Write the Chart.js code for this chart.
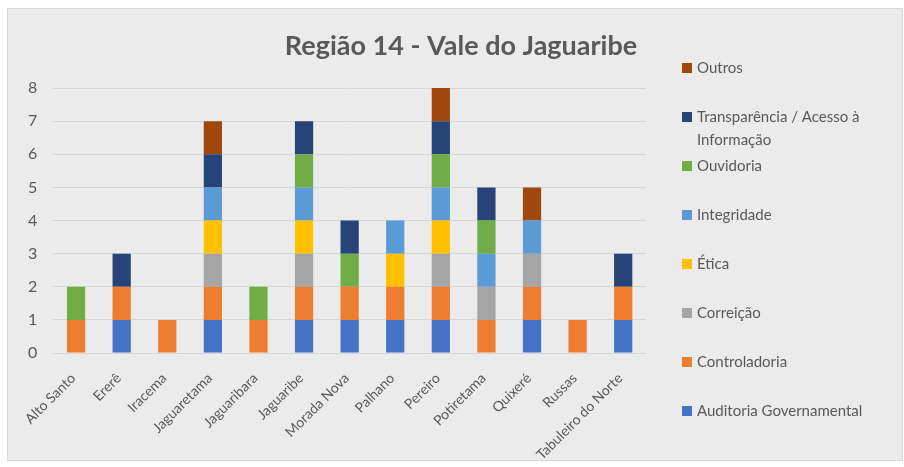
<!DOCTYPE html>
<html>
<head>
<meta charset="utf-8">
<script src="https://cdn.jsdelivr.net/npm/chart.js@4/dist/chart.umd.min.js"></script>
<style>
  html, body { margin: 0; padding: 0; background: #fff; }
  #panel {
    position: absolute; left: 7px; top: 8px;
    width: 896px; height: 453px;
    background: #ebebeb; border: 1px solid #d9d9d9; box-sizing: border-box;
  }
  #panel canvas { display: block; }
</style>
</head>
<body>
<div id="panel"><canvas id="chart"></canvas></div>
<script>
const municipios = ['Alto Santo', 'Ererê', 'Iracema', 'Jaguaretama', 'Jaguaribara', 'Jaguaribe',
    'Morada Nova', 'Palhano', 'Pereiro', 'Potiretama', 'Quixeré', 'Russas', 'Tabuleiro do Norte'];

// one value per município, in the order above
const auditoria     = [0, 1, 0, 1, 0, 1, 1, 1, 1, 0, 1, 0, 1];
const controladoria = [1, 1, 1, 1, 1, 1, 1, 1, 1, 1, 1, 1, 1];
const correicao     = [0, 0, 0, 1, 0, 1, 0, 0, 1, 1, 1, 0, 0];
const etica         = [0, 0, 0, 1, 0, 1, 0, 1, 1, 0, 0, 0, 0];
const integridade   = [0, 0, 0, 1, 0, 1, 0, 1, 1, 1, 1, 0, 0];
const ouvidoria     = [1, 0, 0, 0, 1, 1, 1, 0, 1, 1, 0, 0, 0];
const transparencia = [0, 1, 0, 1, 0, 1, 1, 0, 1, 1, 0, 0, 1];
const outros        = [0, 0, 0, 1, 0, 0, 0, 0, 1, 0, 1, 0, 0];

const yTicks = [0, 1, 2, 3, 4, 5, 6, 7, 8];

const titulo = 'Região 14 - Vale do Jaguaribe';

const FONT = 'Lato, "Open Sans", sans-serif';
const TEXT = '#595959';

const series = [
    { label: 'Auditoria Governamental', data: auditoria, color: '#4472C4' },
    { label: 'Controladoria', data: controladoria, color: '#ED7D31' },
    { label: 'Correição', data: correicao, color: '#A5A5A5' },
    { label: 'Ética', data: etica, color: '#FFC000' },
    { label: 'Integridade', data: integridade, color: '#5B9BD5' },
    { label: 'Ouvidoria', data: ouvidoria, color: '#70AD47' },
    { label: 'Transparência / Acesso à Informação', data: transparencia, color: '#264478' },
    { label: 'Outros', data: outros, color: '#9E480E' }
];

// title centred on the whole panel + legend on the right (top item = last dataset)
const sideLegend = {
    id: 'sideLegend',
    afterDraw(chart) {
        const ctx = chart.ctx;
        ctx.save();
        ctx.font = 'bold 27px ' + FONT;
        ctx.fillStyle = TEXT;
        ctx.textAlign = 'center';
        ctx.textBaseline = 'middle';
        ctx.fillText(titulo, 453, 37);

        const x = 674, y0 = 59, step = 49, lineH = 23, maxW = 205;
        ctx.font = '15px ' + FONT;
        ctx.textAlign = 'left';
        const sets = chart.data.datasets.slice().reverse();
        sets.forEach((ds, i) => {
            const y = y0 + i * step;
            ctx.fillStyle = ds.backgroundColor;
            ctx.fillRect(x, y - 5, 10, 10);
            // wrap words
            const words = ds.label.split(' ');
            const lines = [];
            let cur = '';
            words.forEach(w => {
                const t = cur ? cur + ' ' + w : w;
                if (ctx.measureText(t).width > maxW && cur) { lines.push(cur); cur = w; }
                else cur = t;
            });
            lines.push(cur);
            ctx.fillStyle = TEXT;
            lines.forEach((ln, j) => ctx.fillText(ln, x + 15, y + j * lineH));
        });
        ctx.restore();
    }
};

new Chart(document.getElementById('chart'), {
    type: 'bar',
    data: {
        labels: municipios,
        datasets: series.map(s => ({
            label: s.label,
            data: s.data,
            backgroundColor: s.color,
            borderWidth: 0,
            categoryPercentage: 1,
            barPercentage: 0.4
        }))
    },
    options: {
        responsive: true,
        maintainAspectRatio: false,
        animation: false,
        layout: { padding: { left: 4, right: 256, top: 79, bottom: 0 } },
        plugins: {
            legend: { display: false },
            tooltip: { enabled: false },
            title: { display: false }
        },
        scales: {
            x: {
                stacked: true,
                grid: { display: false },
                border: { display: false },
                afterFit(axis) { axis.height = 107; },
                ticks: {
                    color: TEXT,
                    font: { family: FONT, size: 14 },
                    maxRotation: 45,
                    minRotation: 45,
                    padding: 9,
                    labelOffset: -3
                }
            },
            y: {
                stacked: true,
                min: 0,
                max: 8,
                afterBuildTicks(axis) { axis.ticks = yTicks.map(v => ({ value: v })); },
                grid: { color: '#d6d6d6', lineWidth: 1, drawTicks: false },
                border: { display: false },
                ticks: {
                    color: TEXT,
                    font: { family: FONT, size: 16 },
                    padding: 16
                }
            }
        }
    },
    plugins: [sideLegend]
});
</script>
</body>
</html>
